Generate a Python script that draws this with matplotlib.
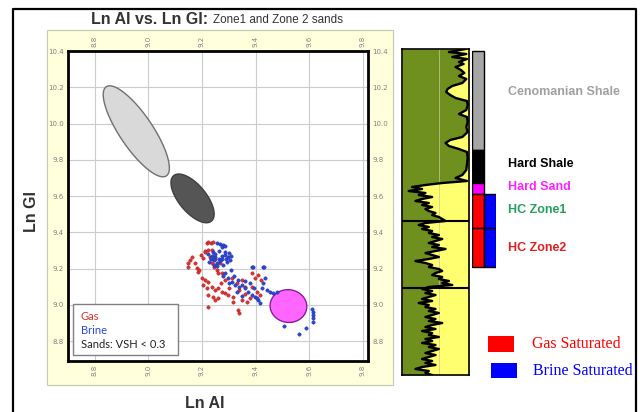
import matplotlib.pyplot as plt
import numpy as np
from matplotlib.patches import Rectangle, Polygon

# crossplot points (Ln AI, Ln GI)
gas_ai = [9.219, 9.223, 9.234, 9.242, 9.212, 9.223, 9.238, 9.212,
          9.163, 9.156, 9.148, 9.148, 9.175, 9.182, 9.186,
          9.238, 9.246, 9.257, 9.261, 9.201, 9.212, 9.223,
          9.204, 9.219, 9.238, 9.249, 9.261, 9.276, 9.287,
          9.223, 9.242, 9.261, 9.249, 9.223, 9.317, 9.336,
          9.339, 9.298, 9.317, 9.351, 9.369, 9.381, 9.313,
          9.332, 9.351, 9.362, 9.388, 9.399, 9.410, 9.422,
          9.388, 9.407, 9.418, 9.276, 9.287, 9.197, 9.205,
          9.230, 9.250, 9.268, 9.190, 9.270, 9.300, 9.340, 9.360]
gas_gi = [9.341, 9.347, 9.341, 9.347, 9.297, 9.303, 9.303, 9.292,
          9.264, 9.248, 9.231, 9.209, 9.231, 9.203, 9.181,
          9.231, 9.209, 9.192, 9.176, 9.148, 9.137, 9.126,
          9.109, 9.093, 9.098, 9.082, 9.093, 9.071, 9.065,
          9.054, 9.043, 9.038, 9.027, 8.988, 9.015, 8.971,
          8.955, 9.054, 9.043, 9.027, 9.015, 9.038, 9.148,
          9.120, 9.137, 9.098, 9.176, 9.148, 9.165, 9.137,
          9.098, 9.071, 9.054, 9.176, 9.137, 9.275, 9.259,
          9.264, 9.250, 9.231, 9.190, 9.120, 9.090, 9.080, 9.060]

brine_ai = [9.257, 9.268, 9.279, 9.276, 9.285,
            9.223, 9.238, 9.250, 9.262, 9.275, 9.287, 9.298, 9.305, 9.292,
            9.280, 9.268, 9.255, 9.245, 9.232, 9.225, 9.245, 9.257, 9.310,
            9.240, 9.265, 9.285, 9.300, 9.250, 9.275, 9.290, 9.235,
            9.287, 9.298, 9.313, 9.324, 9.336, 9.351, 9.362, 9.373, 9.388,
            9.399, 9.410, 9.425, 9.429, 9.437, 9.388, 9.429, 9.407, 9.418,
            9.444, 9.455, 9.467, 9.482, 9.433, 9.392,
            9.320, 9.340, 9.360, 9.330, 9.350, 9.380, 9.395, 9.300, 9.280, 9.310,
            9.613, 9.613, 9.616, 9.616, 9.610, 9.590, 9.564, 9.508]
brine_gi = [9.341, 9.336, 9.330, 9.319, 9.325,
            9.280, 9.270, 9.262, 9.255, 9.268, 9.275, 9.262, 9.245, 9.235,
            9.220, 9.240, 9.230, 9.245, 9.250, 9.235, 9.220, 9.212, 9.270,
            9.290, 9.295, 9.290, 9.285, 9.280, 9.250, 9.255, 9.260,
            9.176, 9.148, 9.126, 9.109, 9.137, 9.109, 9.093, 9.071, 9.054,
            9.043, 9.027, 9.093, 9.120, 9.148, 9.209, 9.209, 9.038, 9.010,
            9.082, 9.071, 9.065, 9.071, 9.209, 9.209,
            9.160, 9.100, 9.130, 9.070, 9.050, 9.120, 9.090, 9.120, 9.160, 9.190,
            8.960, 8.944, 8.927, 8.905, 8.975, 8.872, 8.839, 8.883]

# ellipse clouds: centre, first semi-axis, second semi-axis (data units)
ell_center = [(8.955, 9.957), (9.165, 9.587), (9.523, 8.993)]
ell_axis1 = [(0.112, -0.246), (0.070, -0.126), (0.068, 0.008)]
ell_axis2 = [(0.052, 0.050), (0.040, 0.047), (-0.008, 0.090)]
ell_face = ['#d9d9d9', '#555555', '#ff66ff']
ell_edge = ['#707070', '#404040', '#8a1a9a']

# log track: depth (relative, top = 0) and curve position across the track
log_depth = [0, 3, 5, 8, 10, 13, 15, 18, 21, 24, 27, 30, 34, 37, 40, 43, 46, 49,
             52, 56, 61, 65, 68, 73, 78, 83, 88, 91, 94, 97, 100, 103, 109, 115,
             121, 126, 129, 132] + list(range(134, 327, 2))
log_value = [0.95, 0.70, 0.96, 0.75, 0.97, 0.85, 0.92, 0.80, 0.88, 0.93, 0.85, 0.96,
             0.90, 0.75, 0.68, 0.66, 0.72, 0.80, 0.97, 0.98, 0.96, 0.85, 0.97, 0.98,
             0.96, 0.98, 0.90, 0.72, 0.65, 0.70, 0.85, 0.97, 0.98, 0.97, 0.96, 0.90,
             0.80, 0.97,
             0.60, 0.35, 0.15, 0.30, 0.10, 0.35, 0.25, 0.45, 0.30, 0.20, 0.40, 0.30,
             0.45, 0.35, 0.40, 0.50, 0.45, 0.55, 0.60, 0.65, 0.35, 0.25, 0.40, 0.30,
             0.45, 0.40, 0.55, 0.45, 0.60, 0.50, 0.40, 0.55, 0.45, 0.65, 0.50, 0.35,
             0.45, 0.55, 0.40, 0.20, 0.35, 0.45, 0.40, 0.55, 0.60, 0.50, 0.45, 0.60,
             0.55, 0.70, 0.60, 0.75, 0.40, 0.30, 0.45, 0.35, 0.50, 0.40, 0.30, 0.45,
             0.25, 0.40, 0.35, 0.50, 0.40, 0.55, 0.45, 0.35, 0.50, 0.40, 0.60, 0.45,
             0.35, 0.50, 0.30, 0.45, 0.40, 0.55, 0.35, 0.45, 0.30, 0.50, 0.40, 0.55,
             0.45, 0.35, 0.50, 0.40, 0.30, 0.45, 0.35, 0.50, 0.30, 0.20, 0.40, 0.35,
             0.45]
log_breaks = [172, 239]

# zone column
zone_names = ['Cenomanian Shale', 'Hard Shale', 'Hard Sand', 'HC Zone1', 'HC Zone2']
zone_top = [2, 101, 134, 145, 179]
zone_base = [101, 134, 145, 179, 218]
zone_colors = ['#a6a6a6', 'black', '#ff00ff', '#ff0000', '#ff0000']
zone_label_depth = [43, 115, 138, 161, 199]
zone_label_colors = ['#a0a0a0', 'black', '#ff22ff', '#22a060', '#e02020']
brine_top = [145, 179]
brine_base = [179, 218]

W, H = 644, 412


def fx(px):
    return px / W


def fy(py):
    return 1 - py / H


fig = plt.figure(figsize=(6.44, 4.12), dpi=100)

# outer frame and yellow panel behind crossplot
fig.add_artist(plt.Line2D([fx(13), fx(13), fx(636), fx(636)], [0, fy(9), fy(9), 0],
                          transform=fig.transFigure, color='black', lw=1.6))
fig.patches.append(Rectangle((fx(47), fy(385)), fx(393) - fx(47), fy(30) - fy(385),
                             transform=fig.transFigure, facecolor='#ffffdc',
                             edgecolor='#c8c8b0', lw=0.8, zorder=-1))

# crossplot
ax = fig.add_axes([fx(68), fy(361), fx(368) - fx(68), fy(51) - fy(361)])
ax.set_zorder(2)
ax.set_xlim(8.70, 9.82)
ax.set_ylim(8.69, 10.40)
ax.set_xticks([8.8, 9.0, 9.2, 9.4, 9.6, 9.8])
ax.set_yticks([8.8, 9.0, 9.2, 9.4, 9.6, 9.8, 10.0, 10.2, 10.4])
ax.grid(True, color='#cccccc', lw=0.8)
ax.set_axisbelow(True)
ax.tick_params(length=0, labelsize=5, labelcolor='#808080', pad=3,
               top=True, right=True, labeltop=True, labelright=True)
ax.tick_params(axis='x', labelrotation=90)
for s in ax.spines.values():
    s.set_linewidth(2)

t = np.linspace(0, 2 * np.pi, 120)
for c, a1, a2, fc, ec in zip(ell_center, ell_axis1, ell_axis2, ell_face, ell_edge):
    xs = c[0] + a1[0] * np.cos(t) + a2[0] * np.sin(t)
    ys = c[1] + a1[1] * np.cos(t) + a2[1] * np.sin(t)
    ax.add_patch(Polygon(np.column_stack([xs, ys]), closed=True, facecolor=fc,
                         edgecolor=ec, lw=1, zorder=2))

ax.scatter(gas_ai, gas_gi, s=6, color='#e03030', edgecolors='#a02020', linewidths=0.3, zorder=3)
ax.scatter(brine_ai, brine_gi, s=6, color='#2a48e0', edgecolors='#1a2a90', linewidths=0.3, zorder=3)

ax.add_patch(Rectangle((0.017, 0.019), 0.35, 0.165, transform=ax.transAxes,
                       facecolor='white', edgecolor='#808080', lw=1, zorder=4))
ax.text(0.043, 0.145, 'Gas', color='#e03030', fontsize=8, family='Lato',
        transform=ax.transAxes, va='center', zorder=5)
ax.text(0.043, 0.100, 'Brine', color='#2a48e0', fontsize=8, family='Lato',
        transform=ax.transAxes, va='center', zorder=5)
ax.text(0.043, 0.052, 'Sands: VSH < 0.3', color='#222222', fontsize=8, family='Lato',
        transform=ax.transAxes, va='center', zorder=5)

fig.text(fx(91), fy(19), 'Ln AI vs. Ln GI:', fontsize=11.5, fontweight='bold',
         family='Liberation Sans', color='#333333', va='center')
fig.text(fx(213), fy(20), 'Zone1 and Zone 2 sands', fontsize=8.4,
         family='Liberation Sans', color='#333333', va='center')
fig.text(fx(31), fy(211), 'Ln GI', fontsize=11.5, fontweight='bold', rotation=90,
         family='Liberation Sans', color='#333333', ha='center', va='center')
fig.text(fx(205), fy(403), 'Ln AI', fontsize=11.5, fontweight='bold',
         family='Liberation Sans', color='#333333', ha='center', va='center')

# log track
ax_t = fig.add_axes([fx(402), fy(375), fx(469) - fx(402), fy(49) - fy(375)])
ax_t.fill_betweenx(log_depth, 0, log_value, color='#6f901f', lw=0)
ax_t.fill_betweenx(log_depth, log_value, 1, color='#ffff70', lw=0)
ax_t.axvline(0.55, color='#c8c8a0', lw=0.5)
ax_t.plot(log_value, log_depth, color='black', lw=1.7)
for b in log_breaks:
    ax_t.axhline(b, color='black', lw=1.5)
ax_t.set_xlim(0, 1)
ax_t.set_ylim(326, 0)
ax_t.set_xticks([])
ax_t.set_yticks([])
for s in ax_t.spines.values():
    s.set_linewidth(1.2)

# zone column
ax_z = fig.add_axes([fx(472), fy(375), fx(496) - fx(472), fy(49) - fy(375)])
ax_z.set_xlim(-0.5, 1.5)
ax_z.set_ylim(326, 0)
ax_z.axis('off')
ax_z.bar([0] * len(zone_top), np.array(zone_base) - np.array(zone_top), bottom=zone_top,
         width=1, color=zone_colors, edgecolor='black', lw=1)
ax_z.bar([1] * len(brine_top), np.array(brine_base) - np.array(brine_top), bottom=brine_top,
         width=1, color='#0000ff', edgecolor='black', lw=1)
for name, d, col in zip(zone_names, zone_label_depth, zone_label_colors):
    ax_z.text(2.5, d, name, color=col, fontsize=9, fontweight='bold',
              family='Liberation Sans', va='center', ha='left', clip_on=False)

# saturation legend
fig.patches.append(Rectangle((fx(488), fy(352)), fx(514) - fx(488), fy(336) - fy(352),
                             transform=fig.transFigure, facecolor='#ff0000', lw=0))
fig.patches.append(Rectangle((fx(491), fy(378)), fx(517) - fx(491), fy(363) - fy(378),
                             transform=fig.transFigure, facecolor='#0000ff', lw=0))
fig.text(fx(532), fy(344), 'Gas Saturated', color='#ff0000', fontsize=11.4,
         family='Liberation Serif', va='center')
fig.text(fx(533), fy(371), 'Brine Saturated', color='#0000ff', fontsize=11.5,
         family='Liberation Serif', va='center')

fig.savefig('out.png', dpi=100)
